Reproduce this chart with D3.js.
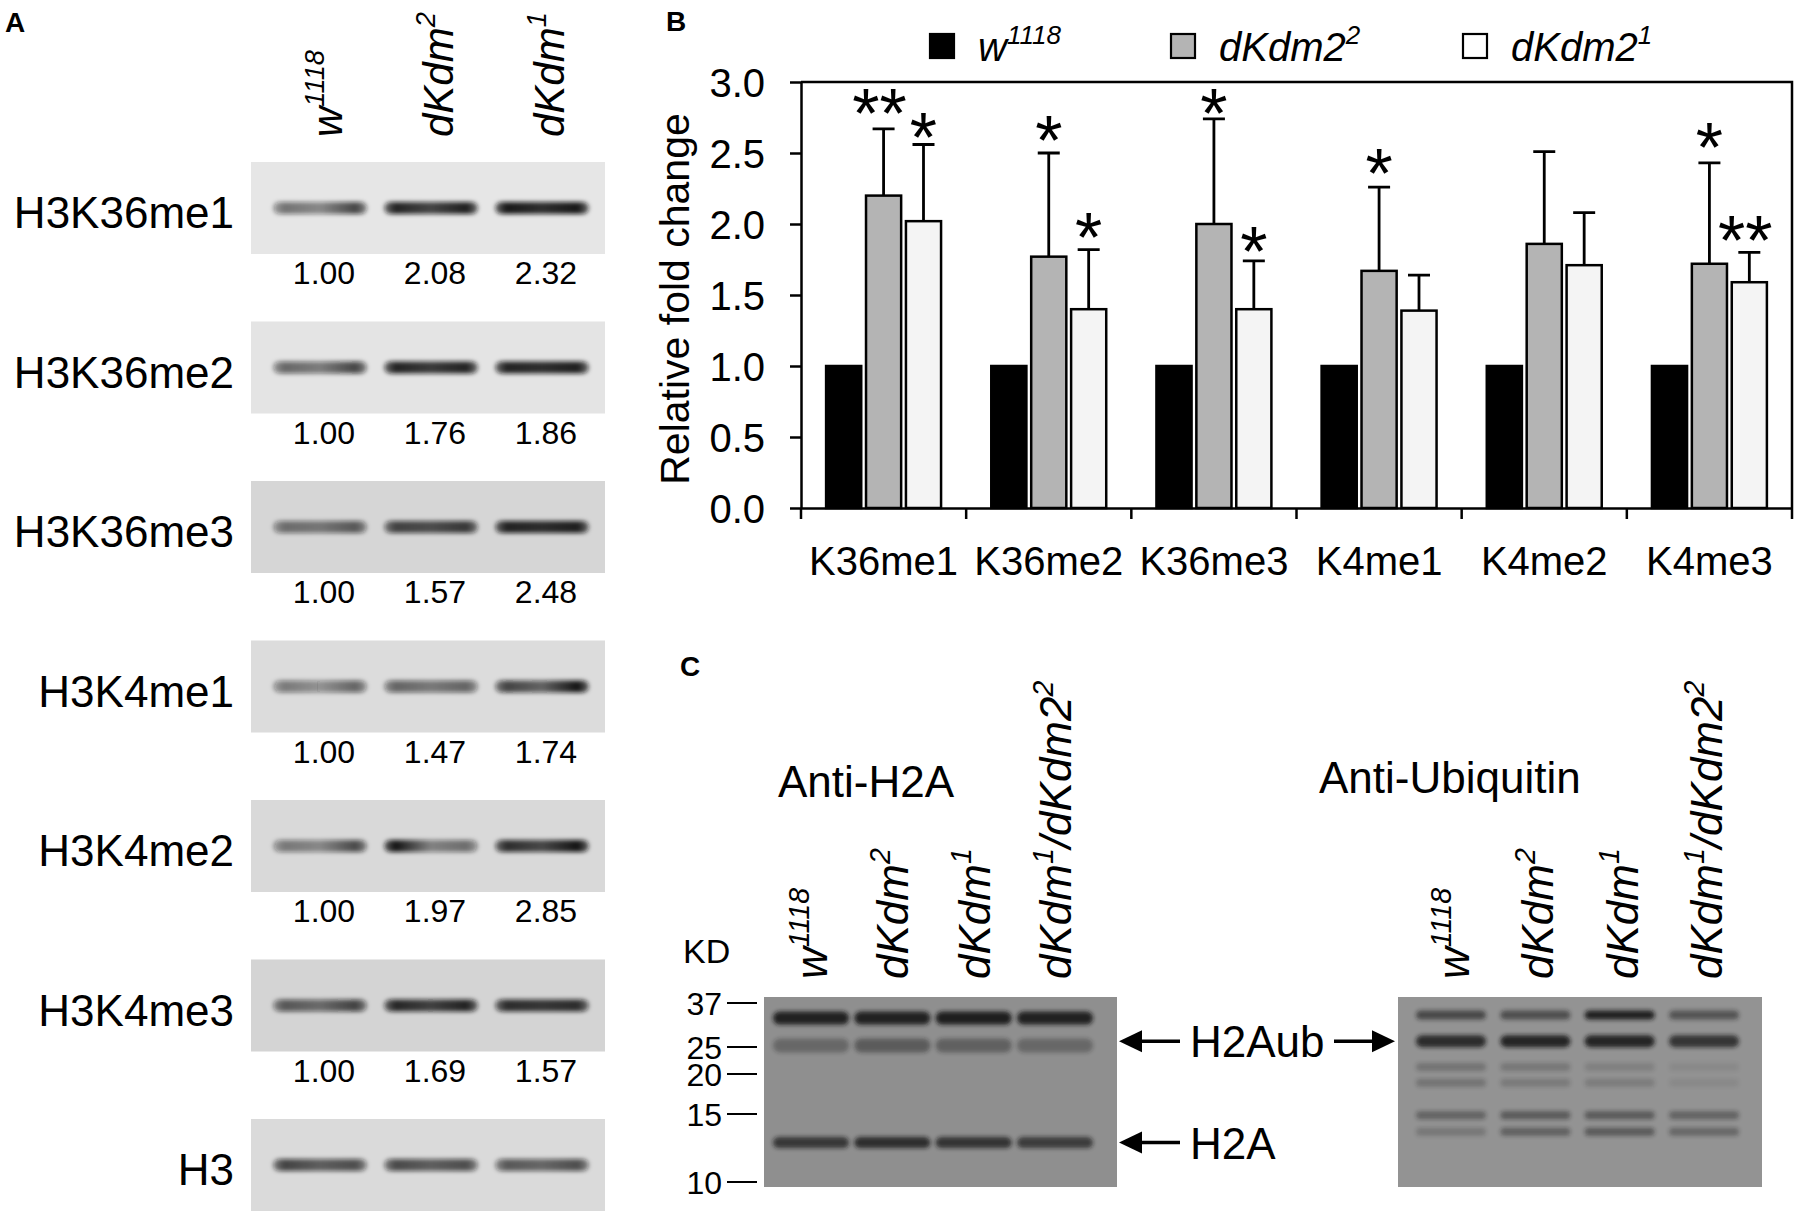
<!DOCTYPE html>
<html>
<head>
<meta charset="utf-8">
<script src="https://cdn.jsdelivr.net/npm/d3@7"></script>
<style>
  body { margin: 0; background: #fff; }
  svg { display: block; }
  text { font-family: "Liberation Sans", Arial, Helvetica, sans-serif; fill: #000; }
</style>
</head>
<body>
<svg id="fig" width="1800" height="1219"></svg>
<script>
// ---------- Panel A: western blots with quantification ----------
const aLaneNames = [[['w', 0], ['1118', 1]], [['dKdm', 0], ['2', 1]], [['dKdm', 0], ['1', 1]]];
const aRows = ['H3K36me1', 'H3K36me2', 'H3K36me3', 'H3K4me1', 'H3K4me2', 'H3K4me3', 'H3'];
const aRatios = [
  ['1.00', '2.08', '2.32'],
  ['1.00', '1.76', '1.86'],
  ['1.00', '1.57', '2.48'],
  ['1.00', '1.47', '1.74'],
  ['1.00', '1.97', '2.85'],
  ['1.00', '1.69', '1.57'],
  null
];
// band darkness per lane: [left end, middle, right end]
const aBandDark = [
  [[0.55, 0.45, 0.75], [0.9, 0.75, 0.92], [0.95, 0.85, 0.95]],
  [[0.6, 0.5, 0.75], [0.9, 0.8, 0.9], [0.9, 0.85, 0.92]],
  [[0.55, 0.5, 0.65], [0.75, 0.7, 0.8], [0.9, 0.85, 0.92]],
  [[0.5, 0.38, 0.6], [0.6, 0.5, 0.6], [0.75, 0.6, 0.97]],
  [[0.5, 0.42, 0.72], [0.97, 0.45, 0.55], [0.85, 0.72, 0.97]],
  [[0.65, 0.55, 0.75], [0.88, 0.75, 0.9], [0.85, 0.8, 0.85]],
  [[0.75, 0.62, 0.7], [0.72, 0.62, 0.7], [0.65, 0.58, 0.7]]
];
const aBlotGrey = ['#e6e6e6', '#e4e4e4', '#d6d6d6', '#dcdcdc', '#d9d9d9', '#d4d4d4', '#dadada'];

// ---------- Panel B: relative fold change ----------
const categories = ['K36me1', 'K36me2', 'K36me3', 'K4me1', 'K4me2', 'K4me3'];
const seriesKeys = ['wt', 'kdm22', 'kdm21'];
const legendNames = [[['w', 0], ['1118', 1]], [['dKdm2', 0], ['2', 1]], [['dKdm2', 0], ['1', 1]]];
const wtValues = [1, 1, 1, 1, 1, 1];
const kdm22Values = [2.20, 1.77, 2.00, 1.67, 1.86, 1.72];
const kdm22Sd = [0.47, 0.73, 0.74, 0.59, 0.65, 0.71];
const kdm21Values = [2.02, 1.40, 1.40, 1.39, 1.71, 1.59];
const kdm21Sd = [0.54, 0.42, 0.34, 0.25, 0.37, 0.21];
const kdm22Sig = ['**', '*', '*', '*', '', '*'];
const kdm22SigY = [2.86, 2.67, 2.86, 2.44, null, 2.62];
const kdm21Sig = ['*', '*', '*', '', '', '**'];
const kdm21SigY = [2.69, 1.99, 1.89, null, null, 1.97];
const yTicks = [0, 0.5, 1, 1.5, 2, 2.5, 3];

// ---------- Panel C: H2A ubiquitination blots ----------
const cLaneNames = [
  [['w', 0], ['1118', 1]],
  [['dKdm', 0], ['2', 1]],
  [['dKdm', 0], ['1', 1]],
  [['dKdm', 0], ['1', 1], ['/dKdm2', 0], ['2', 1]]
];
const markerKD = [37, 25, 20, 15, 10];
const h2aBandKD = [32.9, 25.4, 12.9];
const h2aBandDark = [
  [0.9, 0.9, 0.93, 0.9],
  [0.32, 0.42, 0.38, 0.32],
  [0.72, 0.8, 0.75, 0.68]
];
const ubBandKD = [33.7, 26.6, 21.3, 18.9, 14.9, 13.7];
const ubBandDark = [
  [0.6, 0.55, 0.92, 0.5],
  [0.82, 0.88, 0.88, 0.75],
  [0.25, 0.22, 0.15, 0.08],
  [0.25, 0.2, 0.18, 0.08],
  [0.38, 0.45, 0.45, 0.38],
  [0.22, 0.4, 0.45, 0.35]
];

const svg = d3.select('#fig');
const defs = svg.append('defs');
defs.append('filter').attr('id', 'blur')
  .attr('x', '-20%').attr('y', '-200%').attr('width', '140%').attr('height', '500%')
  .append('feGaussianBlur').attr('stdDeviation', 2.3);

// italic label with superscripts
function richText(sel, parts, size) {
  const t = sel.append('text').attr('font-size', size).attr('font-style', 'italic');
  let up = false;
  parts.forEach(([s, sup]) => {
    const ts = t.append('tspan').text(s);
    if (sup) {
      ts.attr('font-size', size * 0.65);
      if (!up) { ts.attr('dy', -size * 0.42); up = true; }
    } else if (up) {
      ts.attr('dy', size * 0.42); up = false;
    }
  });
  return t;
}

function panelLetter(txt, x, y) {
  svg.append('text').attr('x', x).attr('y', y).attr('font-size', 28)
    .attr('font-weight', 'bold').text(txt);
}

// ================= Panel A =================
panelLetter('A', 5, 32);
const aLaneX = d3.scalePoint().domain(d3.range(3)).range([320, 542]);
const aRowY = d3.scaleLinear().domain([0, aRows.length - 1]).range([162, 1119]);
const gA = svg.append('g');

aLaneNames.forEach((parts, l) => {
  const g = gA.append('g').attr('transform', `translate(${aLaneX(l) + 22},137) rotate(-90)`);
  richText(g, parts, 42);
});

aRows.forEach((name, r) => {
  const top = aRowY(r);
  gA.append('rect').attr('x', 251).attr('y', top).attr('width', 354).attr('height', 92)
    .attr('fill', aBlotGrey[r]);
  gA.append('text').attr('x', 234).attr('y', top + 66).attr('text-anchor', 'end')
    .attr('font-size', 44).text(name);

  aBandDark[r].forEach((d, l) => {
    const id = `ga${r}_${l}`;
    const gr = defs.append('linearGradient').attr('id', id);
    [[0, d[0] * 0.6], [0.12, d[0]], [0.5, d[1]], [0.88, d[2]], [1, d[2] * 0.6]].forEach(([o, a]) => {
      gr.append('stop').attr('offset', o).attr('stop-color', '#111').attr('stop-opacity', a);
    });
    gA.append('rect')
      .attr('x', aLaneX(l) - 47).attr('y', top + 40).attr('width', 94).attr('height', 12)
      .attr('rx', 6).attr('fill', `url(#${id})`).attr('filter', 'url(#blur)');
  });

  if (aRatios[r]) {
    gA.selectAll(null).data(aRatios[r]).join('text')
      .attr('x', (d, l) => aLaneX(l) + 4).attr('y', top + 122)
      .attr('text-anchor', 'middle').attr('font-size', 32).text(d => d);
  }
});

// ================= Panel B =================
panelLetter('B', 666, 31);
const gB = svg.append('g');
const x0 = d3.scaleBand().domain(categories).range([801, 1792]).padding(0);
const bw = x0.bandwidth();
const x1 = d3.scaleBand().domain(seriesKeys).range([bw * 0.152, bw * 0.848]).paddingInner(0.12);
const y = d3.scaleLinear().domain([0, 3]).range([508, 82]);
const fills = { wt: '#000', kdm22: '#b4b4b4', kdm21: '#f4f4f4' };

const barData = [];
categories.forEach((c, i) => {
  barData.push({ c, key: 'wt', v: wtValues[i], sd: null, sig: '', sigY: null });
  barData.push({ c, key: 'kdm22', v: kdm22Values[i], sd: kdm22Sd[i], sig: kdm22Sig[i], sigY: kdm22SigY[i] });
  barData.push({ c, key: 'kdm21', v: kdm21Values[i], sd: kdm21Sd[i], sig: kdm21Sig[i], sigY: kdm21SigY[i] });
});
const cx = d => x0(d.c) + x1(d.key) + x1.bandwidth() / 2;

// frame: top and right
gB.append('path')
  .attr('d', `M${x0.range()[0]},${y(3)}H${x0.range()[1]}V${y(0)}`)
  .attr('fill', 'none').attr('stroke', '#000').attr('stroke-width', 2.5);

gB.selectAll('rect.bar').data(barData).join('rect').attr('class', 'bar')
  .attr('x', d => x0(d.c) + x1(d.key)).attr('width', x1.bandwidth())
  .attr('y', d => y(d.v)).attr('height', d => y(0) - y(d.v))
  .attr('fill', d => fills[d.key]).attr('stroke', '#000').attr('stroke-width', 2.5);

const errs = barData.filter(d => d.sd != null);
gB.selectAll('path.err').data(errs).join('path').attr('class', 'err')
  .attr('d', d => `M${cx(d)},${y(d.v)}V${y(d.v + d.sd)}M${cx(d) - 11},${y(d.v + d.sd)}H${cx(d) + 11}`)
  .attr('stroke', '#000').attr('stroke-width', 2.8).attr('fill', 'none');

const starSize = 70;
gB.selectAll('text.sig').data(barData.filter(d => d.sig)).join('text').attr('class', 'sig')
  .attr('x', d => cx(d) - (d.sig.length > 1 ? 4 : 0)).attr('y', d => y(d.sigY) + starSize * 0.52)
  .attr('text-anchor', 'middle').attr('font-size', starSize).text(d => d.sig);

// y axis
const yAxis = gB.append('g').attr('transform', `translate(${x0.range()[0]},0)`)
  .call(d3.axisLeft(y).tickValues(yTicks).tickFormat(d3.format('.1f')).tickSize(11).tickSizeOuter(0).tickPadding(25));
yAxis.selectAll('path, line').attr('stroke', '#000').attr('stroke-width', 2.5);
yAxis.selectAll('text').attr('font-size', 40).attr('font-family', null).attr('dy', '0.36em');

// x axis
const xAxis = gB.append('g').attr('transform', `translate(0,${y(0)})`)
  .call(d3.axisBottom(x0).tickSize(0).tickSizeOuter(0).tickPadding(39));
xAxis.select('path').attr('stroke', '#000').attr('stroke-width', 2.5);
xAxis.selectAll('text').attr('font-size', 40).attr('font-family', null);
const bounds = categories.map(c => x0(c)).concat([x0.range()[1]]);
gB.selectAll('line.xt').data(bounds).join('line').attr('class', 'xt')
  .attr('x1', d => d).attr('x2', d => d).attr('y1', y(0)).attr('y2', y(0) + 11)
  .attr('stroke', '#000').attr('stroke-width', 2.5);

gB.append('text').attr('transform', `translate(689,${(y(0) + y(3)) / 2 + 4}) rotate(-90)`)
  .attr('text-anchor', 'middle').attr('font-size', 41).text('Relative fold change');

// legend
const legX = [930, 1171, 1463];
seriesKeys.forEach((k, i) => {
  gB.append('rect').attr('x', legX[i]).attr('y', 34).attr('width', 24).attr('height', 24)
    .attr('fill', k === 'kdm21' ? '#fff' : fills[k]).attr('stroke', '#000').attr('stroke-width', 2.2);
  const g = gB.append('g').attr('transform', `translate(${legX[i] + 48},61)`);
  richText(g, legendNames[i], 40);
});

// ================= Panel C =================
panelLetter('C', 680, 676);
const gC = svg.append('g');
const cY = d3.scaleLinear().domain(markerKD).range([1003, 1047, 1074, 1114, 1182]);
const h2aX = d3.scalePoint().domain(d3.range(4)).range([811, 1055]);
const ubX = d3.scalePoint().domain(d3.range(4)).range([1451, 1704]);
const blotTop = 997, blotBot = 1187;

gC.append('text').attr('x', 778).attr('y', 797).attr('font-size', 44).text('Anti-H2A');
gC.append('text').attr('x', 1319).attr('y', 793).attr('font-size', 44).text('Anti-Ubiquitin');

cLaneNames.forEach((parts, l) => {
  richText(gC.append('g').attr('transform', `translate(${h2aX(l) + 16},979) rotate(-90)`), parts, 44);
  richText(gC.append('g').attr('transform', `translate(${ubX(l) + 18},979) rotate(-90)`), parts, 44);
});

// blots
gC.append('rect').attr('x', 764).attr('y', blotTop).attr('width', 353).attr('height', blotBot - blotTop)
  .attr('fill', '#8f8f8f');
gC.append('rect').attr('x', 1398).attr('y', blotTop).attr('width', 364).attr('height', blotBot - blotTop)
  .attr('fill', '#939393');

const h2aThick = [13, 14, 11];
h2aBandKD.forEach((kd, b) => {
  h2aBandDark[b].forEach((a, l) => {
    gC.append('rect').attr('x', h2aX(l) - 38).attr('y', cY(kd) - h2aThick[b] / 2)
      .attr('width', 76).attr('height', h2aThick[b]).attr('rx', h2aThick[b] / 2)
      .attr('fill', '#151515').attr('opacity', a).attr('filter', 'url(#blur)');
  });
});
const ubThick = [9, 12, 8, 8, 8, 8];
ubBandKD.forEach((kd, b) => {
  ubBandDark[b].forEach((a, l) => {
    gC.append('rect').attr('x', ubX(l) - 35).attr('y', cY(kd) - ubThick[b] / 2)
      .attr('width', 70).attr('height', ubThick[b]).attr('rx', ubThick[b] / 2)
      .attr('fill', '#151515').attr('opacity', a).attr('filter', 'url(#blur)');
  });
});

// molecular weight markers
gC.append('text').attr('x', 683).attr('y', 963).attr('font-size', 34).text('KD');
gC.selectAll('text.kd').data(markerKD).join('text').attr('class', 'kd')
  .attr('x', 722).attr('y', d => cY(d)).attr('dy', '0.36em')
  .attr('text-anchor', 'end').attr('font-size', 32).text(d => d);
gC.selectAll('line.kd').data(markerKD).join('line').attr('class', 'kd')
  .attr('x1', 727).attr('x2', 757).attr('y1', d => cY(d)).attr('y2', d => cY(d))
  .attr('stroke', '#000').attr('stroke-width', 2);

// arrows
function arrow(xTip, xTail, yy) {
  const dir = xTip < xTail ? 1 : -1;
  gC.append('line').attr('x1', xTip + dir * 18).attr('x2', xTail).attr('y1', yy).attr('y2', yy)
    .attr('stroke', '#000').attr('stroke-width', 3.5);
  gC.append('path')
    .attr('d', `M${xTip},${yy}L${xTip + dir * 23},${yy - 11}L${xTip + dir * 23},${yy + 11}Z`)
    .attr('fill', '#000');
}
const yUb = cY(ubBandKD[1]);
const yH2a = cY(h2aBandKD[2]);
arrow(1119, 1180, yUb);
arrow(1395, 1334, yUb);
arrow(1119, 1180, yH2a);
gC.append('text').attr('x', 1190).attr('y', yUb + 16).attr('font-size', 44).text('H2Aub');
gC.append('text').attr('x', 1190).attr('y', yH2a + 16).attr('font-size', 44).text('H2A');
</script>
</body>
</html>
